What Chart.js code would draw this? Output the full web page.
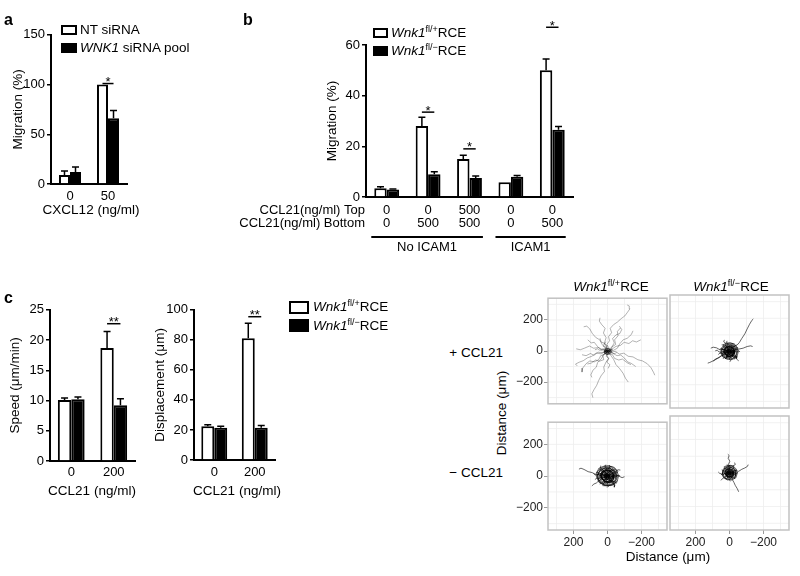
<!DOCTYPE html>
<html><head><meta charset="utf-8">
<script src="https://cdn.jsdelivr.net/npm/chart.js@4"></script>
<style>
body{margin:0;background:#fff;width:800px;height:576px;position:relative;overflow:hidden;font-family:"Liberation Sans",Arial,sans-serif;color:#000}
canvas{position:absolute}
.t{position:absolute;white-space:nowrap;font-size:13.5px;line-height:1}
.lb{position:absolute;font-weight:bold;font-size:16px;line-height:1}
.box{position:absolute;border:2px solid #000;box-sizing:border-box}
sup{font-size:9px;vertical-align:5px;line-height:0}
</style></head><body>
<script>
// ---------- data ----------
const aCategories = ['0', '50'];
const aNT = [9, 100];
const aNTerr = [13, 100];
const aWNK = [12, 66];
const aWNKerr = [17, 74];
const aSig = [null, 101];
const aSigText = [null, '*'];

const bTop = ['0', '0', '500', '0', '0'];
const bBottom = ['0', '500', '500', '0', '500'];
const bRowHeaders = ['CCL21(ng/ml) Top', 'CCL21(ng/ml) Bottom'];
const bHet = [3.5, 28, 15, 5.8, 50];
const bHetErr = [4, 31.5, 16.5, 5.8, 54.5];
const bKo = [3, 9, 7.5, 8, 26.5];
const bKoErr = [3.2, 10, 8.3, 8.5, 27.8];
const bSig = [null, 33.5, 19, null, 67];
const bSigText = [null, '*', '*', null, '*'];
const bGroups = ['No ICAM1', 'ICAM1'];
const bGroupFrom = [0, 3];
const bGroupTo = [2, 4];

const cCategories = ['0', '200'];
const speedHet = [10.1, 18.7];
const speedHetErr = [10.4, 21.4];
const speedKo = [10.2, 9.2];
const speedKoErr = [10.6, 10.3];
const speedSig = [null, 22.7];
const dispHet = [22.5, 81];
const dispHetErr = [23.5, 91];
const dispKo = [21.5, 21.5];
const dispKoErr = [22.5, 23];
const dispSig = [null, 95.4];
const cSigText = [null, '**'];

const trackTicks = [-200, 0, 200];
const trackGrid = [-300, -200, -100, 0, 100, 200, 300];

// tracks: flat x,y lists (μm), each starting at origin
const tracksHetPlus = [
 [0,0,-8,20,4,42,-12,66,-6,92,-24,118,-16,146,-36,170,-58,186,-80,208,-102,226,-118,250,-132,272,-128,290,-116,296],
 [0,0,6,-22,-6,-48,10,-74,22,-104,18,-132,38,-160,52,-190,64,-222,80,-250,92,-276,86,-300],
 [0,0,-22,-8,-46,-2,-70,-20,-96,-14,-122,-34,-150,-38,-178,-56,-206,-64,-234,-82,-256,-108,-272,-140,-278,-156],
 [0,0,18,-6,42,-18,66,-12,92,-34,118,-44,142,-62,166,-72,188,-84,178,-96],
 [0,0,12,18,30,40,46,72,70,88,90,114,104,142,122,160,140,156],
 [0,0,-26,12,-50,30,-76,36,-98,56,-126,48,-148,66,-170,58,-196,72],
 [0,0,-18,-26,-36,-54,-50,-88,-72,-114,-92,-144,-106,-176,-122,-200],
 [0,0,22,-22,36,-50,58,-74,66,-104,86,-124,98,-154,92,-170],
 [0,0,4,26,18,52,8,86,24,116,14,146,34,170,48,192,44,214],
 [0,0,-14,8,-34,4,-58,18,-72,46,-92,72,-116,82,-140,106,-150,130],
 [0,0,28,8,52,22,82,18,106,32,136,18,160,8,184,14],
 [0,0,8,-14,28,-28,22,-56,48,-66,70,-58,96,-78,118,-84],
 [0,0,-8,-18,-28,-22,-42,-48,-66,-58,-88,-52,-116,-76,-138,-88],
 [0,0,14,8,4,24,24,30,18,50,38,58,44,82],
 [0,0,-18,4,-28,28,-48,42,-42,72,-62,98,-58,126,-76,148],
 [0,0,18,14,34,4,58,28,78,56,96,52,116,72],
 [0,0,-4,-14,8,-34,-8,-48,4,-72,-14,-88,-4,-112],
 [0,0,8,4,-4,14,14,18,0,32,18,44,10,60],
 [0,0,-14,-4,-10,14,-28,10,-24,-8,-38,-18,-54,-10],
 [0,0,4,-8,18,-4,14,10,28,14,44,4,58,14,74,8],
 [0,0,8,4,2,12,-6,8,-10,-2,-2,-10,8,-6,14,2],
 [0,0,-6,6,-12,2,-8,-8,4,-12,10,-2,4,8],
 [0,0,10,-4,6,-16,-4,-20,-14,-12,-18,2,-10,14],
 [0,0,-10,-10,-2,-22,12,-18,20,-6,14,8,0,16],
 [0,0,30,-12,54,-8,80,-28,100,-16,126,-30,150,-24],
 [0,0,-24,24,-40,52,-30,80,-50,104,-72,112,-84,138,-70,160],
 [0,0,10,6,14,-6,4,-14,-10,-12,-16,0,-10,14,2,18,14,12,20,0,16,-16,0,-22,-18,-18,-24,-2],
 [0,0,-8,6,-12,-6,-2,-12,10,-8,12,4,4,14,-8,16,-18,8,-20,-6,-12,-20,4,-22,18,-14],
 [0,0,16,-20,40,-30,52,-56,78,-70,104,-64,126,-82,146,-110,150,-136],
 [0,0,-30,-14,-56,-30,-78,-26,-100,-46,-118,-70,-140,-80,-166,-100]
];
const tracksKoPlus = [
 [0,0,-14,18,-28,32,-44,38,-58,54,-72,78,-90,106,-104,136,-118,164,-132,188,-140,196],
 [0,0,18,6,38,14,56,10,76,22,96,26,110,20],
 [0,0,22,-14,46,-26,70,-42,92,-54,116,-66,128,-70],
 [0,0,-26,6,-52,14,-80,20,-104,30,-124,34,-136,30],
 [0,0,10,8,22,4,30,14,40,10,48,18,58,14],
 [0,0,-8,10,-18,6,-24,18,-34,12,-42,24,-52,20],
 [0,0,6,-12,14,-20,10,-32,22,-40,30,-34,38,-44],
 [0,0,-10,-6,-20,-14,-16,-28,-28,-34,-38,-30,-46,-40],
 [0,0,4,14,0,28,12,34,8,46,18,54,14,64],
 [0,0,-12,2,-22,-4,-32,2,-44,-4,-54,4,-62,-2],
 [0,0,12,-4,24,-10,34,-4,44,-14,56,-10,66,-18],
 [0,0,-4,-14,4,-24,-6,-34,2,-46,-8,-54,-2,-62],
 [0,0,14,12,8,22,20,28,30,24,34,38,46,40],
 [0,0,-14,-12,-6,-22,-18,-30,-26,-22,-34,-38,-28,-48],
 [0,0,8,-6,2,-16,14,-18,20,-26,16,-36,26,-44],
 [0,0,-6,12,-16,18,-10,28,-22,34,-30,30,-38,42],
 [0,0,10,2,4,10,-6,6,-10,-4,0,-10,10,-6,14,4],
 [0,0,-8,4,-4,12,6,14,12,4,6,-8,-4,-10,-12,-2],
 [0,0,18,4,28,-6,38,2,50,-6,62,-2,72,8,84,4],
 [0,0,14,28,24,34,20,48,34,58,30,70],
 [0,0,6,6,12,0,6,-6,-2,-4,-6,4,0,10,8,12],
 [0,0,-6,-4,-2,-10,6,-8,10,2,4,8,-4,6],
 [0,0,20,-6,34,-18,48,-24,62,-36,80,-44,96,-58],
 [0,0,-18,-8,-30,-20,-44,-28,-40,-44,-54,-56],
 [0,0,12,8,18,-6,6,-18,-12,-16,-20,0,-14,16,2,22,18,16,26,0,20,-20,0,-28,-22,-24,-30,-4,-24,20,-4,30,20,28,32,8],
 [0,0,-10,6,-14,-8,-2,-16,12,-10,16,6,6,18,-10,20,-22,10,-26,-8,-16,-24,4,-28,22,-18,30,2,22,22,2,32,-20,28,-34,12],
 [0,0,6,-10,18,-4,14,10,2,14,-10,6,-8,-8,4,-20,20,-16,28,0,24,18,8,26,-12,24,-24,12,-26,-10,-12,-26,10,-32,30,-24,38,-6,34,16],
 [0,0,-6,-12,-18,-6,-16,8,-4,16,10,10,14,-4,6,-16,-10,-22,-24,-12,-28,6,-18,22,0,28,18,20,28,4,24,-14,10,-30,-12,-34,-30,-24],
 [0,0,16,12,28,-8,16,-28,-12,-32,-32,-12,-36,16,-16,36,12,40,36,24,48,0,40,-28,16,-44,-16,-48,-44,-32,-52,0,-44,28,-20,48,12,52,40,40],
 [0,0,-12,10,-22,-4,-14,-22,8,-28,28,-14,32,10,18,30,-8,38,-32,28,-44,4,-38,-24,-16,-42,14,-46,40,-32,52,-4,46,24,24,44,-4,52,-32,44],
 [0,0,8,-14,24,-18,34,-2,28,20,8,30,-16,26,-30,8,-28,-16,-10,-34,16,-38,38,-24,46,4,36,30,10,44,-20,42,-42,22,-46,-6,-34,-34,-6,-50]
];
const tracksHetMinus = [
 [0,0,18,4,42,14,66,8,90,22,114,28,138,42,156,50,168,44],
 [0,0,-22,-4,-42,6,-66,0,-86,-10,-100,-4],
 [0,0,12,10,24,6,34,18,46,14,58,24,68,18],
 [0,0,-10,12,-20,8,-30,20,-40,16,-50,28,-60,22],
 [0,0,8,-14,16,-24,12,-36,24,-44,34,-40,44,-52],
 [0,0,-12,-8,-22,-16,-18,-30,-30,-38,-42,-34,-52,-46],
 [0,0,4,16,-2,30,10,38,6,50,16,60,10,72],
 [0,0,-14,4,-26,-4,-38,4,-50,-4,-62,6,-74,2],
 [0,0,14,-6,28,-12,38,-6,50,-16,62,-12,74,-22],
 [0,0,-4,-16,6,-28,-6,-40,4,-52,-6,-62,2,-72],
 [0,0,16,14,10,26,24,32,34,28,40,42,52,46],
 [0,0,-16,-14,-8,-26,-20,-34,-30,-26,-38,-42,-32,-54],
 [0,0,10,-8,4,-18,16,-22,22,-30,18,-42,30,-50],
 [0,0,-8,14,-18,20,-12,32,-24,38,-34,34,-42,46],
 [0,0,10,2,4,12,-6,8,-12,-4,0,-12,12,-8,16,4],
 [0,0,-8,6,-4,14,8,16,14,4,8,-10,-4,-12,-14,-2],
 [0,0,6,6,14,0,8,-8,-2,-6,-8,4,0,12,10,14],
 [0,0,-6,-6,-2,-14,8,-10,12,2,4,10,-6,8,-12,0],
 [0,0,22,-10,36,-22,52,-30,66,-44,80,-50,92,-62],
 [0,0,-20,10,-34,22,-48,30,-62,40,-76,38],
 [0,0,12,22,26,30,30,44,44,52,40,66],
 [0,0,-10,-22,-24,-30,-30,-46,-44,-54,-40,-70],
 [0,0,20,0,32,10,44,2,56,12,70,6,82,16],
 [0,0,-4,20,-14,34,-6,48,-16,58,-10,70],
 [0,0,14,10,22,-8,8,-22,-14,-20,-26,0,-18,20,2,28,24,20,34,0,26,-26,0,-36,-28,-30,-40,-4,-30,26,-4,40,26,36,42,10,38,-20],
 [0,0,-12,8,-18,-10,-2,-20,16,-12,20,8,8,24,-12,26,-28,12,-32,-10,-20,-30,6,-36,28,-22,38,2,28,28,2,40,-26,36,-44,14,-46,-14],
 [0,0,8,-12,22,-4,18,12,2,18,-12,8,-10,-10,6,-26,26,-20,36,0,30,22,10,34,-16,30,-30,14,-34,-12,-16,-34,12,-40,38,-30,48,-6,42,20],
 [0,0,-8,-14,-22,-8,-20,10,-6,20,12,12,18,-6,8,-20,-12,-28,-30,-14,-36,8,-22,28,0,36,22,26,36,6,30,-18,12,-38,-16,-42,-38,-30],
 [0,0,20,15,35,-10,20,-35,-15,-40,-40,-15,-45,20,-20,45,15,50,45,30,60,0,50,-35,20,-55,-20,-60,-55,-40,-65,0,-55,35,-25,60,15,65,50,50,68,15],
 [0,0,-15,12,-28,-5,-18,-28,10,-35,35,-18,40,12,22,38,-10,48,-40,35,-55,5,-48,-30,-20,-52,18,-58,50,-40,65,-5,58,30,30,55,-5,65,-40,55,-62,28],
 [0,0,10,-18,30,-22,42,-2,35,25,10,38,-20,32,-38,10,-35,-20,-12,-42,20,-48,48,-30,58,5,45,38,12,55,-25,52,-52,28,-58,-8,-42,-42,-8,-62,30,-60],
 [0,0,-12,-16,-30,-10,-36,12,-20,32,8,36,30,20,34,-10,16,-34,-14,-44,-42,-30,-52,2,-40,34,-10,52,26,48,52,24,58,-12,40,-44,6,-60,-32,-56,-58,-28]
];
const tracksKoMinus = [
 [0,0,4,16,-4,34,6,52,-2,70,8,88,2,104,10,112],
 [0,0,-18,6,-36,14,-54,10,-72,22,-90,30,-106,40,-110,50],
 [0,0,-8,-18,-16,-38,-26,-56,-34,-74,-46,-94,-54,-112],
 [0,0,10,8,20,4,28,14,38,10,46,18],
 [0,0,-8,10,-16,6,-24,16,-32,12,-40,22],
 [0,0,6,-10,14,-18,10,-28,20,-36,28,-32],
 [0,0,-10,-6,-18,-14,-14,-26,-26,-32,-34,-28],
 [0,0,4,14,0,26,10,32,6,42,16,50],
 [0,0,-12,2,-20,-4,-30,2,-40,-4,-50,4],
 [0,0,12,-4,22,-10,30,-4,40,-12,50,-8],
 [0,0,-4,-12,4,-22,-6,-30,2,-40,-6,-48],
 [0,0,12,10,6,20,18,26,26,22,30,34],
 [0,0,-12,-10,-6,-20,-16,-28,-24,-20,-30,-34],
 [0,0,8,2,4,10,-6,6,-10,-4,0,-10,10,-6],
 [0,0,-6,4,-2,12,8,12,12,2,6,-8,-4,-10],
 [0,0,6,6,12,0,6,-6,-2,-4,-6,4,0,10],
 [0,0,16,4,26,-6,36,2,46,-6,58,-2,66,6],
 [0,0,-14,20,-24,28,-20,42,-34,50,-30,62],
 [0,0,18,-14,28,-26,40,-32,50,-44],
 [0,0,-6,-8,-12,0,-4,8,4,4,2,-6],
 [0,0,10,6,14,-6,4,-14,-10,-12,-16,0,-10,14,2,18,14,12,20,0,16,-16,0,-22,-18,-18,-24,-2,-18,16,-2,24,16,22,26,6],
 [0,0,-8,6,-12,-6,-2,-12,10,-8,12,4,4,14,-8,16,-18,8,-20,-6,-12,-20,4,-22,18,-14,24,2,18,18,2,26,-16,22,-26,8],
 [0,0,6,-8,14,-2,12,8,2,12,-8,4,-6,-8,4,-16,16,-12,22,0,18,14,6,20,-10,18,-20,8,-20,-8,-10,-20,8,-24,24,-18],
 [0,0,14,10,24,-6,14,-24,-10,-28,-28,-10,-32,14,-14,32,10,36,32,22,42,0,36,-24,14,-40,-14,-42,-38,-28,-46,0,-38,26,-16,42,10,46,34,36],
 [0,0,-10,8,-20,-4,-12,-20,6,-24,24,-12,28,8,16,26,-6,34,-28,24,-38,4,-34,-20,-14,-36,12,-40,34,-28,44,-4,40,20,20,38,-4,46,-28,40],
 [0,0,8,-12,20,-16,30,-2,24,18,6,26,-14,22,-26,6,-24,-14,-8,-30,14,-34,32,-20,40,4,30,26,8,38,-18,36,-36,18,-40,-6,-30,-30]
];

// ---------- helpers ----------
const FAM = "'Liberation Sans', Arial, sans-serif";
Chart.defaults.font.family = FAM;
Chart.defaults.color = '#000';

const marks = {
  id: 'marks',
  afterDatasetsDraw(chart, args, opts) {
    const ctx = chart.ctx, ys = chart.scales.y;
    ctx.save();
    ctx.strokeStyle = '#000'; ctx.fillStyle = '#000'; ctx.lineWidth = 1.5;
    chart.data.datasets.forEach((ds, di) => {
      chart.getDatasetMeta(di).data.forEach((bar, i) => {
        const e = ds.err[i];
        if (e == null || e <= ds.data[i]) return;
        const y0 = ys.getPixelForValue(ds.data[i]), y1 = ys.getPixelForValue(e);
        ctx.beginPath();
        ctx.moveTo(bar.x, y0); ctx.lineTo(bar.x, y1);
        ctx.moveTo(bar.x - 3.5, y1); ctx.lineTo(bar.x + 3.5, y1);
        ctx.stroke();
      });
    });
    const m0 = chart.getDatasetMeta(0).data, m1 = chart.getDatasetMeta(1).data;
    (opts.sig || []).forEach((v, i) => {
      if (v == null) return;
      const y = ys.getPixelForValue(v);
      ctx.beginPath(); ctx.moveTo(m0[i].x, y); ctx.lineTo(m1[i].x, y); ctx.stroke();
      ctx.font = '13px ' + FAM; ctx.textAlign = 'center'; ctx.textBaseline = 'alphabetic';
      ctx.fillText(opts.sigText[i], (m0[i].x + m1[i].x) / 2, y + 2.5);
    });
    if (opts.extra) opts.extra(chart, ctx, m0, m1);
    ctx.restore();
  }
};

function mkCanvas(L, T, R, B) {
  const cv = document.createElement('canvas');
  cv.width = R - L; cv.height = B - T;
  cv.style.left = L + 'px'; cv.style.top = T + 'px';
  document.body.appendChild(cv);
  return cv;
}

function barChart(o) {
  const [L, T, R, B] = o.rect, [cl, ct, cr, cb] = o.area;
  const cv = mkCanvas(L, T, R, B);
  const ds = (v, e, fill) => ({data: v, err: e, backgroundColor: fill, borderColor: '#000', borderWidth: 2,
    borderSkipped: 'bottom', categoryPercentage: o.cp, barPercentage: 1});
  return new Chart(cv, {
    type: 'bar',
    data: {labels: o.labels, datasets: [ds(o.v1, o.e1, '#fff'), ds(o.v2, o.e2, '#000')]},
    options: {
      responsive: false, animation: false, events: [],
      layout: {padding: {left: 0, top: ct - T, right: R - cr, bottom: 0}},
      plugins: {legend: {display: false}, tooltip: {enabled: false},
        marks: {sig: o.sig, sigText: o.sigText, extra: o.extra}},
      scales: {
        x: {grid: {display: false, drawTicks: false}, border: {display: true, color: '#000', width: 2},
          ticks: {color: '#000', font: {size: 13, lineHeight: o.xlh || 1.2}, padding: o.xpad, maxRotation: 0, autoSkip: false},
          afterFit: s => { s.height = B - cb; }},
        y: {min: 0, max: o.max,
          grid: {drawOnChartArea: false, drawTicks: true, tickLength: 4, color: '#000', lineWidth: 1.5},
          border: {display: true, color: '#000', width: 2},
          ticks: {stepSize: o.step, color: '#000', font: {size: 13}, padding: 2},
          title: {display: true, text: o.yTitle, color: '#000', font: {size: 13.5}, padding: {top: o.ytp, bottom: 0}},
          afterFit: s => { s.width = cl - L; }}
      }
    },
    plugins: [marks]
  });
}

const fmtTick = v => v < 0 ? '\u2212' + (-v) : String(v);
const panelPlugin = {
  id: 'panel',
  beforeDatasetsDraw(chart) {
    const {ctx, chartArea: a, scales: {x, y}} = chart;
    ctx.save(); ctx.strokeStyle = '#eeeeee'; ctx.lineWidth = 0.8;
    trackGrid.forEach(v => {
      const px = x.getPixelForValue(v), py = y.getPixelForValue(v);
      ctx.beginPath();
      if (px > a.left && px < a.right) { ctx.moveTo(px, a.top); ctx.lineTo(px, a.bottom); }
      if (py > a.top && py < a.bottom) { ctx.moveTo(a.left, py); ctx.lineTo(a.right, py); }
      ctx.stroke();
    });
    ctx.restore();
  },
  afterDatasetsDraw(chart) {
    const {ctx, chartArea: a} = chart;
    ctx.save(); ctx.strokeStyle = '#c2c2c2'; ctx.lineWidth = 1.5;
    ctx.strokeRect(a.left, a.top, a.right - a.left, a.bottom - a.top);
    ctx.restore();
  }
};

function trackChart(o) {
  const [L, T, R, B] = o.rect, [cl, ct, cr, cb] = o.area;
  const cv = mkCanvas(L, T, R, B);
  const datasets = o.tracks.map(t => {
    const pts = [];
    for (let i = 0; i < t.length; i += 2) pts.push({x: t[i], y: t[i + 1]});
    return {data: pts, showLine: true, pointRadius: 0, borderColor: o.col, borderWidth: o.lw, tension: 0};
  });
  const axis = (show, fit) => ({
    type: 'linear', display: show,
    afterBuildTicks: s => { s.ticks = trackTicks.map(v => ({value: v})); },
    grid: {drawOnChartArea: false, drawTicks: true, tickLength: 4, color: '#9a9a9a', lineWidth: 1},
    border: {display: false},
    ticks: {color: '#222', font: {size: 12}, padding: 1, callback: fmtTick},
    afterFit: fit
  });
  const xs = axis(o.showX, s => { s.height = B - cb; });
  xs.min = -350; xs.max = 350; xs.reverse = true;
  const ysc = axis(o.showY, s => { s.width = cl - L; });
  ysc.min = -340; ysc.max = 340;
  return new Chart(cv, {
    type: 'scatter', data: {datasets},
    options: {
      responsive: false, animation: false, events: [],
      layout: {padding: {left: o.showY ? 0 : cl - L, top: ct - T, right: R - cr, bottom: o.showX ? 0 : B - cb}},
      plugins: {legend: {display: false}, tooltip: {enabled: false}},
      scales: {x: xs, y: ysc}
    },
    plugins: [panelPlugin]
  });
}

// ---------- panel a ----------
barChart({rect: [8, 25, 129, 218], area: [51, 33, 127, 184], labels: aCategories,
  v1: aNT, e1: aNTerr, v2: aWNK, e2: aWNKerr, cp: 0.58, max: 150, step: 50,
  yTitle: 'Migration (%)', ytp: 2, xpad: 5, sig: aSig, sigText: aSigText});

// ---------- panel b ----------
barChart({rect: [238, 15, 580, 256], area: [366, 45, 573, 197],
  labels: bTop.map((t, i) => [t, bBottom[i]]),
  v1: bHet, e1: bHetErr, v2: bKo, e2: bKoErr, cp: 0.6, max: 60, step: 20,
  yTitle: 'Migration (%)', ytp: 86, xlh: 1.0, xpad: 6.5, sig: bSig, sigText: bSigText,
  extra: (chart, ctx, m0, m1) => {
    const a = chart.chartArea;
    ctx.font = '13px ' + FAM; ctx.textAlign = 'right'; ctx.textBaseline = 'middle';
    bRowHeaders.forEach((h, k) => ctx.fillText(h, a.left - 1, a.bottom + 6.5 + 13 * (k + 0.5)));
    ctx.lineWidth = 2; ctx.textAlign = 'center';
    bGroups.forEach((g, k) => {
      const b0 = m0[bGroupFrom[k]], b1 = m1[bGroupTo[k]];
      const x0 = b0.x - b0.width / 2 - 3, x1 = b1.x + b1.width / 2 + 1;
      ctx.beginPath(); ctx.moveTo(x0, a.bottom + 40); ctx.lineTo(x1, a.bottom + 40); ctx.stroke();
      ctx.fillText(g, (x0 + x1) / 2, a.bottom + 50);
    });
  }});

// ---------- panel c bars ----------
barChart({rect: [5, 300, 140, 499], area: [50, 309, 135, 461], labels: cCategories,
  v1: speedHet, e1: speedHetErr, v2: speedKo, e2: speedKoErr, cp: 0.63, max: 25, step: 5,
  yTitle: 'Speed (\u03bcm/min)', ytp: 2, xpad: 4, sig: speedSig, sigText: cSigText});
barChart({rect: [150, 300, 280, 499], area: [194, 308, 275, 460], labels: cCategories,
  v1: dispHet, e1: dispHetErr, v2: dispKo, e2: dispKoErr, cp: 0.64, max: 100, step: 20,
  yTitle: 'Displacement (\u03bcm)', ytp: 2, xpad: 5, sig: dispSig, sigText: cSigText});

// ---------- panel c tracks ----------
trackChart({rect: [510, 290, 669, 412], area: [548, 295, 667, 410], tracks: tracksHetPlus, col: 'rgba(0,0,0,0.38)', lw: 0.8, showX: false, showY: true});
trackChart({rect: [668, 290, 792, 412], area: [669, 295, 789, 410], tracks: tracksKoPlus, col: 'rgba(0,0,0,0.6)', lw: 1, showX: false, showY: false});
trackChart({rect: [510, 414, 669, 554], area: [548, 416, 667, 530], tracks: tracksHetMinus, col: 'rgba(0,0,0,0.6)', lw: 1, showX: true, showY: true});
trackChart({rect: [668, 414, 792, 554], area: [669, 416, 789, 530], tracks: tracksKoMinus, col: 'rgba(0,0,0,0.6)', lw: 1, showX: true, showY: false});

// ---------- html text ----------
function txt(html, x, y, anchor, rot) {
  const d = document.createElement('div');
  d.className = 't'; d.innerHTML = html;
  d.style.left = x + 'px'; d.style.top = y + 'px';
  const tx = anchor === 'c' ? '-50%' : anchor === 'r' ? '-100%' : '0';
  d.style.transform = 'translate(' + tx + ',-50%)' + (rot || '');
  document.body.appendChild(d);
  return d;
}
function box(x, y, w, h, fill) {
  const d = document.createElement('div');
  d.className = 'box';
  Object.assign(d.style, {left: x + 'px', top: y + 'px', width: w + 'px', height: h + 'px', background: fill});
  document.body.appendChild(d);
}
function letter(ch, x, y) {
  const d = document.createElement('div');
  d.className = 'lb'; d.textContent = ch;
  d.style.left = x + 'px'; d.style.top = y + 'px';
  document.body.appendChild(d);
}
const het = '<i>Wnk1</i><sup>fl/+</sup>RCE', ko = '<i>Wnk1</i><sup>fl/\u2212</sup>RCE';

letter('a', 4, 12); letter('b', 243, 12); letter('c', 4, 290);

box(61, 25, 16, 10, '#fff'); txt('NT siRNA', 80, 30, 'l');
box(61, 43, 16, 10, '#000'); txt('<i>WNK1</i> siRNA pool', 80, 48, 'l');
txt('CXCL12 (ng/ml)', 91, 210, 'c');

box(373, 28, 15, 10, '#fff'); txt(het, 391, 33, 'l');
box(373, 46, 15, 10, '#000'); txt(ko, 391, 51, 'l');

box(289, 301, 20, 13, '#fff'); txt(het, 313, 307, 'l');
box(289, 319, 20, 13, '#000'); txt(ko, 313, 326, 'l');
txt('CCL21 (ng/ml)', 92, 491, 'c');
txt('CCL21 (ng/ml)', 237, 491, 'c');

txt(het, 611, 287, 'c');
txt(ko, 731, 287, 'c');
txt('+ CCL21', 503, 353, 'r');
txt('\u2212 CCL21', 503, 473, 'r');
txt('Distance (\u03bcm)', 502, 413, 'c', ' rotate(-90deg)');
txt('Distance (\u03bcm)', 668, 557, 'c');
</script>
</body></html>
